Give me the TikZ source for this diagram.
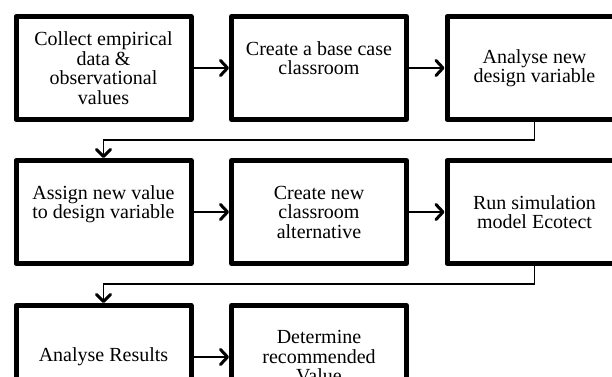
\documentclass[tikz,border=0pt]{standalone}
\usepackage{fontspec}
\setmainfont{Liberation Serif}
\usetikzlibrary{positioning,calc,arrows.meta}

\begin{document}
\begin{tikzpicture}[x=1pt,y=-1pt,
  box/.style={draw,line width=5pt,line join=round,minimum width=175pt,
    minimum height=103pt,inner sep=0pt,align=center,
    font=\fontsize{20}{19.5}\selectfont},
  flow/.style={line width=2.5pt,-{Straight Barb[length=7pt,width=15pt,line width=3pt,round]}},
  link/.style={line width=1.6pt,-{Straight Barb[length=7pt,width=14pt,line width=3pt,round]}}]
\clip (0,0) rectangle (612,376);
% First row
\node[box] (collect) at (103.5,68) {Collect empirical\\data \&\\observational\\values};
\node[box] (base) at (319,68) {Create a base case\\classroom\\~};
\node[box] (analyse) at (534.5,68) {Analyse new\\design variable};
% Second row
\node[box] (assign) at (103.5,212) {Assign new value\\to design variable\\~};
\node[box] (alt) at (319,212) {Create new\\classroom\\alternative};
\node[box] (run) at (534.5,212) {Run simulation\\model Ecotect};
% Third row
\node[box] (results) at (103.5,357) {Analyse Results};
\node[box] (value) at (319,357) {Determine\\recommended\\Value};
% Arrows along each row
\draw[flow] (collect) -- (base);
\draw[flow] (base) -- (analyse);
\draw[flow] (assign) -- (alt);
\draw[flow] (alt) -- (run);
\draw[flow] (results) -- (value);
% Return lines to the next row
\draw[link] (analyse.south) -- ++(0,18) -| (assign.north);
\draw[link] (run.south) -- ++(0,18) -| (results.north);
\end{tikzpicture}
\end{document}
